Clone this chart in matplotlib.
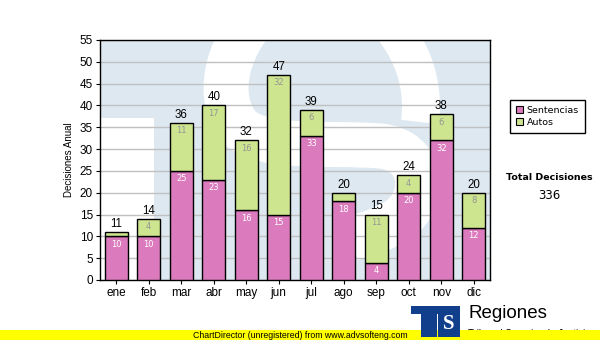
import matplotlib
matplotlib.use("Agg")
import matplotlib.pyplot as plt
from matplotlib.patches import Rectangle, PathPatch, Patch
from matplotlib.path import Path

# ---- data ----
months = ["ene", "feb", "mar", "abr", "may", "jun", "jul", "ago", "sep", "oct", "nov", "dic"]
sentencias = [10, 10, 25, 23, 16, 15, 33, 18, 4, 20, 32, 12]
autos = [1, 4, 11, 17, 16, 32, 6, 2, 11, 4, 6, 8]
series_names = ["Sentencias", "Autos"]
y_ticks = list(range(0, 56, 5))
y_label = "Decisiones Anual"
total_title = "Total Decisiones"
brand = "Regiones"
brand_sub = "Tribunal Superior de Justicia"
footer = "ChartDirector (unregistered) from www.advsofteng.com"

totals = [s + a for s, a in zip(sentencias, autos)]
grand_total = sum(totals)

# ---- style ----
PINK = "#db7bbd"
GREEN = "#cde58f"
WM_BLUE = "#dde8f1"
GRID = "#c0c0c0"
LOGO_BLUE = "#123f8c"
SANS = ["Liberation Sans", "DejaVu Sans"]
UI = ["DejaVu Sans"]

W, H = 600, 340
fig = plt.figure(figsize=(W / 100, H / 100), dpi=100)
fig.patch.set_facecolor("white")


def fx(px):
    return px / W


def fy(py):
    return 1 - py / H


ax = fig.add_axes([fx(100), 60 / H, 390 / W, 240 / H])
ax.set_facecolor(WM_BLUE)

# background watermark: pale "TS" logo (white cut-outs on the pale blue field)
AX_L, AX_B, AX_W, AX_H = 100, 280, 390, 240


def axc(px, py):
    return ((px - AX_L) / AX_W, (AX_B - py) / AX_H)


ax.add_patch(Rectangle(axc(100, 280), 54 / AX_W, 162 / AX_H, transform=ax.transAxes,
                       facecolor="white", edgecolor="none", zorder=0.2))


def stroke(points, width_px):
    verts = [axc(*p) for p in points]
    codes = [Path.MOVETO] + [Path.CURVE4] * (len(verts) - 1)
    ax.add_patch(PathPatch(Path(verts, codes), transform=ax.transAxes, facecolor="none",
                           edgecolor="white", linewidth=width_px * 0.72, capstyle="butt",
                           zorder=0.2))


stroke([(258, 15), (225, 50), (215, 100), (240, 128),
        (265, 150), (330, 142), (380, 146),
        (425, 150), (428, 200), (398, 220),
        (385, 228), (370, 234), (352, 238)], 45)
stroke([(420, 122), (425, 80), (410, 45), (382, 15)], 38)

x = list(range(len(months)))
bw = 0.71

ax.set_xlim(-0.5, len(months) - 0.5)
ax.set_ylim(0, 55)
ax.set_yticks(y_ticks)
ax.set_xticks(x)
ax.set_xticklabels(months)
ax.yaxis.grid(True, color=GRID, linewidth=1.0)
ax.set_axisbelow(True)
for sp in ax.spines.values():
    sp.set_color("black")
    sp.set_linewidth(1.0)
ax.tick_params(axis="both", length=3, width=0.8, color="black", labelsize=8.5, pad=2)
for lab in ax.get_xticklabels() + ax.get_yticklabels():
    lab.set_family(SANS)

ax.bar(x, sentencias, bw, color=PINK, edgecolor="black", linewidth=1.0, zorder=3)
ax.bar(x, autos, bw, bottom=sentencias, color=GREEN, edgecolor="black", linewidth=1.0, zorder=3)

for i in x:
    s, a, t = sentencias[i], autos[i], totals[i]
    ax.annotate(str(s), (i, s), xytext=(0, -2.5), textcoords="offset points",
                ha="center", va="top", fontsize=6, color="white", family=UI, zorder=5)
    if a >= 3:
        ax.annotate(str(a), (i, t), xytext=(0, -2.5), textcoords="offset points",
                    ha="center", va="top", fontsize=6, color="#959595", family=UI, zorder=5)
    ax.annotate(str(t), (i, t), xytext=(0, 1.5), textcoords="offset points",
                ha="center", va="bottom", fontsize=8.3, color="black", family=SANS, zorder=5)

fig.text(fx(69), fy(160), y_label, rotation=90, ha="center", va="center",
         fontsize=7, family=SANS)

# legend
handles = [Patch(facecolor=PINK, edgecolor="black", linewidth=0.8),
           Patch(facecolor=GREEN, edgecolor="black", linewidth=0.8)]
leg = fig.legend(handles, series_names, loc="upper left",
                 bbox_to_anchor=(fx(510), fy(100)), frameon=True, fancybox=False,
                 edgecolor="black", framealpha=1, handlelength=0.75,
                 handleheight=0.75, handletextpad=0.35, borderpad=0.65, labelspacing=0.3,
                 borderaxespad=0, prop={"family": UI, "size": 6.8})
leg.get_frame().set_linewidth(1.0)

fig.text(fx(549), fy(178), total_title, ha="center", va="center", fontsize=6.8,
         fontweight="bold", family=UI)
fig.text(fx(549), fy(196), str(grand_total), ha="center", va="center", fontsize=8.5,
         family=UI)

# brand block at the bottom right
fig.text(fx(468), fy(334), brand_sub, ha="left", va="center", fontsize=7, family=SANS,
         zorder=0.5)
fig.add_artist(Rectangle((0, 0), 1, 10 / H, transform=fig.transFigure,
                         facecolor="#ffff00", edgecolor="none", zorder=1))
fig.text(0.5, fy(335), footer, ha="center", va="center", fontsize=6.3,
         family=SANS, zorder=2)


def frect(x0, y0, x1, y1, color):
    fig.add_artist(Rectangle((fx(x0), fy(y1)), (x1 - x0) / W, (y1 - y0) / H,
                             transform=fig.transFigure, facecolor=color,
                             edgecolor="none", zorder=3))


frect(411, 306, 460, 314, LOGO_BLUE)
frect(421, 314, 437, 337, LOGO_BLUE)
frect(438, 314, 460, 337, LOGO_BLUE)
fig.text(fx(449), fy(324), "S", ha="center", va="center", fontsize=15, color="white",
         fontweight="bold", family=["Liberation Serif", "DejaVu Serif"], zorder=4)
fig.text(fx(468), fy(313), brand, ha="left", va="center", fontsize=13.5, family=SANS,
         zorder=4)

fig.savefig("out.png", dpi=100)
